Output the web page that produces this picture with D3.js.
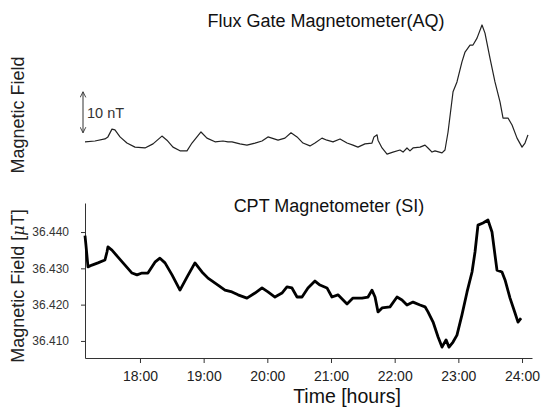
<!DOCTYPE html>
<html><head><meta charset="utf-8">
<script src="https://cdn.jsdelivr.net/npm/d3@7"></script>
<style>body{margin:0;background:#fff}svg{display:block}text{font-family:"Liberation Sans",Arial,sans-serif}</style>
</head><body><div id="chart"></div>
<script>
// Time given in minutes after 17:00
const fluxTime = [8.2,17.6,27.0,29.8,33.6,36.4,41.2,47.7,55.3,64.7,72.3,80.7,85.4,91.1,97.7,104.3,109.0,117.5,123.1,130.7,138.2,142.9,146.7,154.2,160.8,168.4,175.0,180.6,190.1,196.6,202.3,208.0,213.6,220.2,224.9,231.5,236.2,241.9,248.5,255.1,260.7,265.4,272.0,278.6,280.5,283.4,284.3,288.1,292.8,298.4,305.0,307.9,311.6,314.4,317.3,323.9,328.6,331.4,335.2,338.0,344.6,347.4,350.3,355.0,358.7,363.4,366.3,371.0,373.8,377.6,382.3,385.1,389.8,394.5,399.3,402.1,406.8,410.6,415.3,420.0,422.8,425.6];
const fluxNT = [-0.2,0,0.5,1.0,2.9,2.7,1.0,-0.5,-1.5,-1.7,-0.7,1.2,0.2,-1.5,-2.4,-2.4,-0.5,2.2,0.7,-0.2,0,-0.2,-0.2,-0.7,-1.0,-0.5,0,1.0,0.2,0.7,2.0,1.0,-0.5,-1.2,-0.5,0.7,0.2,-0.2,0.5,-0.5,-1.0,-1.5,-0.7,-0.5,1.0,1.5,0.2,-1.7,-3.2,-2.7,-2.2,-2.7,-1.7,-2.4,-1.7,-1.5,-1.0,-1.7,-2.7,-2.4,-2.9,-2.2,2.2,12.0,14.4,19.3,21.7,23.4,23.4,25.1,28.3,26.3,20.2,14.4,9.5,5.6,5.6,3.9,0.7,-1.5,-0.5,1.5];

const cptTime = [8.2,9.1,11.0,14.8,20.4,27.0,28.9,29.8,33.6,39.3,45.9,52.5,57.2,61.9,67.5,74.1,78.8,83.6,90.2,97.7,104.3,111.8,118.4,124.1,133.5,140.1,146.7,152.4,160.8,168.4,175.0,180.6,187.2,193.8,198.5,203.2,208.0,212.7,218.3,224.9,229.6,236.2,240.9,246.6,255.1,260.7,269.2,274.9,278.6,281.5,284.3,288.1,295.6,302.2,306.9,311.6,317.3,323.9,328.6,331.4,336.2,340.9,344.6,348.4,351.2,355.0,358.7,363.4,368.2,372.9,375.7,378.5,383.2,387.9,391.7,394.5,396.4,401.1,404.0,408.7,413.4,416.2,419.1];
const cptField = [36.4390,36.4364,36.4304,36.4309,36.4315,36.4323,36.4345,36.4359,36.4350,36.4331,36.4309,36.4287,36.4282,36.4287,36.4287,36.4317,36.4328,36.4315,36.4282,36.4240,36.4276,36.4315,36.4290,36.4273,36.4254,36.4240,36.4235,36.4227,36.4218,36.4232,36.4246,36.4235,36.4221,36.4232,36.4249,36.4246,36.4221,36.4221,36.4246,36.4265,36.4254,36.4246,36.4221,36.4227,36.4202,36.4218,36.4218,36.4221,36.4240,36.4221,36.4180,36.4191,36.4194,36.4221,36.4213,36.4199,36.4207,36.4199,36.4194,36.4180,36.4152,36.4111,36.4083,36.4103,36.4083,36.4097,36.4116,36.4172,36.4235,36.4290,36.4345,36.4419,36.4425,36.4433,36.4400,36.4337,36.4295,36.4290,36.4268,36.4218,36.4177,36.4152,36.4163];

const xTickMinutes = [60,120,180,240,300,360,420];
const xTickLabels = ["18:00","19:00","20:00","21:00","22:00","23:00","24:00"];
const yTicks = [36.410,36.420,36.430,36.440];
const scaleBarNT = [2,12];

const W=542,H=407;
const svg=d3.select("#chart").append("svg").attr("width",W).attr("height",H);
const x=d3.scaleLinear().domain([8.2,429.4]).range([85,532]);

// ---------- top panel ----------
const yTop=d3.scaleLinear().domain([0,10]).range([141,100]);
svg.append("text").attr("x",326).attr("y",27).attr("text-anchor","middle")
  .attr("font-size",18).attr("fill","#111").text("Flux Gate Magnetometer(AQ)");
svg.append("text").attr("transform","translate(24,115) rotate(-90)").attr("text-anchor","middle")
  .attr("font-size",18).attr("fill","#222").text("Magnetic Field");
const defs=svg.append("defs");
defs.append("marker").attr("id","ah").attr("viewBox","0 0 10 10").attr("refX",9).attr("refY",5)
  .attr("markerWidth",7).attr("markerHeight",7).attr("orient","auto-start-reverse")
  .append("path").attr("d","M1,1 L9,5 L1,9").attr("fill","none").attr("stroke","#333").attr("stroke-width",1.3);
svg.append("line").attr("x1",83).attr("x2",83).attr("y1",yTop(scaleBarNT[0])).attr("y2",yTop(scaleBarNT[1]))
  .attr("stroke","#333").attr("stroke-width",1).attr("marker-start","url(#ah)").attr("marker-end","url(#ah)");
svg.append("text").attr("x",87).attr("y",118).attr("font-size",14.5).attr("fill","#333").text("10 nT");
const fluxData=fluxTime.map((t,i)=>[t,fluxNT[i]]);
svg.append("path").datum(fluxData).attr("fill","none").attr("stroke","#222").attr("stroke-width",1.2)
  .attr("stroke-linejoin","round")
  .attr("d",d3.line().x(d=>x(d[0])).y(d=>yTop(d[1])));

// ---------- bottom panel ----------
const y=d3.scaleLinear().domain([36.4053,36.4480]).range([358,203]);
svg.append("text").attr("x",329).attr("y",212).attr("text-anchor","middle")
  .attr("font-size",18).attr("fill","#111").text("CPT Magnetometer (SI)");
const ya=svg.append("g").attr("transform","translate(85,0)")
  .call(d3.axisLeft(y).tickValues(yTicks).tickFormat(d3.format(".3f")).tickSize(4).tickSizeOuter(0).tickPadding(12));
ya.selectAll("text").attr("font-size",12).attr("fill","#333").attr("font-family","Liberation Sans, Arial, sans-serif");
ya.selectAll("line,path").attr("stroke","#333");
const xa=svg.append("g").attr("transform","translate(0,358)")
  .call(d3.axisBottom(x).tickValues(xTickMinutes).tickFormat((d,i)=>xTickLabels[i]).tickSize(5).tickSizeOuter(0));
xa.selectAll("text").attr("font-size",14).attr("fill","#222").attr("y",23).attr("dy",0)
  .attr("font-family","Liberation Sans, Arial, sans-serif");
xa.selectAll("line,path").attr("stroke","#333");
const yl=svg.append("text").attr("transform","translate(24,286) rotate(-90)").attr("text-anchor","middle")
  .attr("font-size",18).attr("fill","#222");
yl.append("tspan").text("Magnetic Field [");
yl.append("tspan").attr("font-style","italic").attr("font-family","DejaVu Serif, serif").attr("font-size",16).text("\u03bc");
yl.append("tspan").text("T]");
svg.append("text").attr("x",347).attr("y",403).attr("text-anchor","middle")
  .attr("font-size",19.5).attr("fill","#111").text("Time [hours]");
const cptData=cptTime.map((t,i)=>[t,cptField[i]]);
svg.append("path").datum(cptData).attr("fill","none").attr("stroke","#000").attr("stroke-width",2.8)
  .attr("stroke-linejoin","round")
  .attr("d",d3.line().x(d=>x(d[0])).y(d=>y(d[1])));
</script></body></html>
